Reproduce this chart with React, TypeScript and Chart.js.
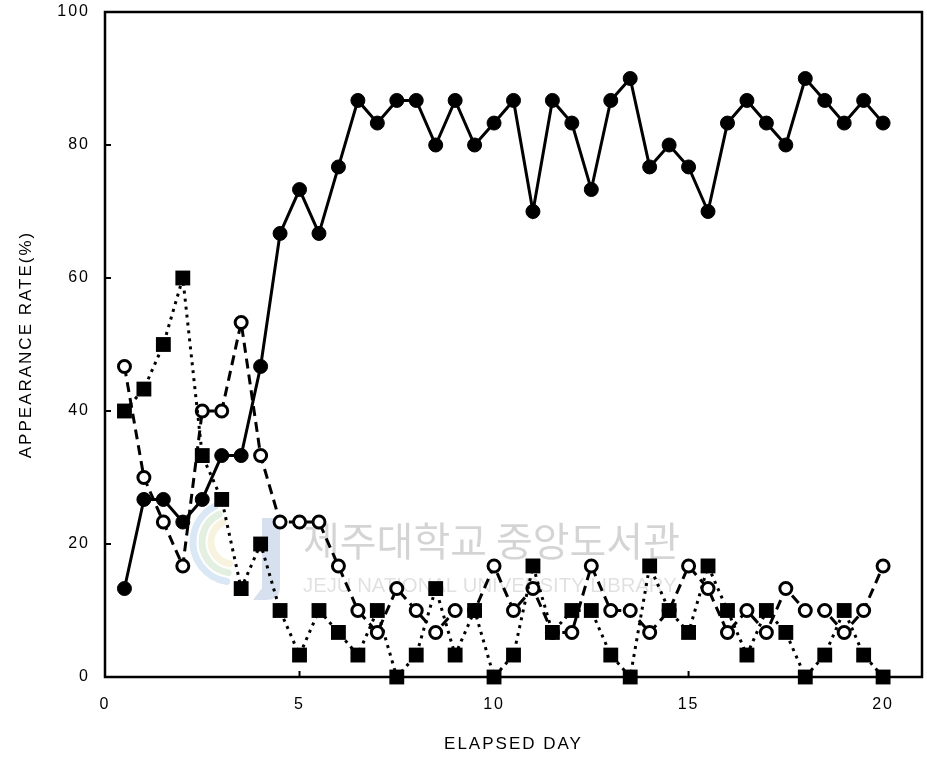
import React, { useEffect, useRef } from "react";
import { Chart, registerables } from "chart.js";

Chart.register(...registerables);

// Elapsed day of each observation
const elapsedDays = [
  0.5, 1, 1.5, 2, 2.5, 3, 3.5, 4, 4.5, 5, 5.5, 6, 6.5, 7, 7.5, 8, 8.5, 9, 9.5, 10,
  10.5, 11, 11.5, 12, 12.5, 13, 13.5, 14, 14.5, 15, 15.5, 16, 16.5, 17, 17.5, 18, 18.5, 19, 19.5, 20,
];

// Appearance rate (%) – filled circles, solid line
const filledCircleRate = [
  13.3, 26.7, 26.7, 23.3, 26.7, 33.3, 33.3, 46.7, 66.7, 73.3, 66.7, 76.7, 86.7, 83.3, 86.7, 86.7, 80, 86.7, 80, 83.3,
  86.7, 70, 86.7, 83.3, 73.3, 86.7, 90, 76.7, 80, 76.7, 70, 83.3, 86.7, 83.3, 80, 90, 86.7, 83.3, 86.7, 83.3,
];

// Appearance rate (%) – open circles, dashed line
const openCircleRate = [
  46.7, 30, 23.3, 16.7, 40, 40, 53.3, 33.3, 23.3, 23.3, 23.3, 16.7, 10, 6.7, 13.3, 10, 6.7, 10, 10, 16.7,
  10, 13.3, 6.7, 6.7, 16.7, 10, 10, 6.7, 10, 16.7, 13.3, 6.7, 10, 6.7, 13.3, 10, 10, 6.7, 10, 16.7,
];

// Appearance rate (%) – filled squares, dotted line
const filledSquareRate = [
  40, 43.3, 50, 60, 33.3, 26.7, 13.3, 20, 10, 3.3, 10, 6.7, 3.3, 10, 0, 3.3, 13.3, 3.3, 10, 0,
  3.3, 16.7, 6.7, 10, 10, 3.3, 0, 16.7, 10, 6.7, 16.7, 10, 3.3, 10, 6.7, 0, 3.3, 10, 3.3, 0,
];

const xTickValues = [0, 5, 10, 15, 20];
const yTickValues = [0, 20, 40, 60, 80, 100];

const xTitle = "ELAPSED DAY";
const yTitle = "APPEARANCE RATE(%)";
const watermarkKo = "제주대학교 중앙도서관";
const watermarkEn = "JEJU NATIONAL UNIVERSITY LIBRARY";

const FONT = "'Liberation Sans', Arial, Helvetica, sans-serif";

function toPoints(values: number[]) {
  return elapsedDays.map((d, i) => ({ x: d, y: values[i] }));
}

function drawWatermark(ctx: CanvasRenderingContext2D, left: number, top: number) {
  ctx.save();
  ctx.letterSpacing = "0px";
  // swirl emblem
  const cx = left + 128;
  const cy = top + 530;
  const swirl = [
    { r: 40, c: "rgba(150,190,230,0.35)" },
    { r: 31, c: "rgba(175,212,170,0.35)" },
    { r: 22, c: "rgba(232,222,160,0.35)" },
  ];
  ctx.lineCap = "round";
  swirl.forEach((s) => {
    ctx.strokeStyle = s.c;
    ctx.lineWidth = 7;
    ctx.beginPath();
    ctx.arc(cx, cy, s.r, Math.PI * 0.55, Math.PI * 1.35);
    ctx.stroke();
  });
  // "J" bar
  ctx.fillStyle = "rgba(140,165,210,0.35)";
  ctx.beginPath();
  ctx.moveTo(left + 157, top + 506);
  ctx.lineTo(left + 175, top + 506);
  ctx.lineTo(left + 175, top + 575);
  ctx.quadraticCurveTo(left + 175, top + 588, left + 160, top + 588);
  ctx.lineTo(left + 148, top + 588);
  ctx.lineTo(left + 157, top + 576);
  ctx.closePath();
  ctx.fill();

  // library name
  ctx.textBaseline = "middle";
  ctx.textAlign = "left";
  ctx.fillStyle = "rgba(0,0,0,0.17)";
  ctx.font = `100px 'Noto Sans CJK KR', sans-serif`;
  const koSize = (100 * 377) / ctx.measureText(watermarkKo).width;
  ctx.font = `${koSize}px 'Noto Sans CJK KR', sans-serif`;
  ctx.fillText(watermarkKo, left + 198, top + 529);

  ctx.fillStyle = "rgba(0,0,0,0.12)";
  ctx.font = `100px ${FONT}`;
  const enSize = (100 * 374) / ctx.measureText(watermarkEn).width;
  ctx.font = `${enSize}px ${FONT}`;
  ctx.fillText(watermarkEn, left + 198, top + 574);
  ctx.restore();
}

const framePlugin = {
  id: "frameAndTicks",
  beforeLayout(chart: any) {
    chart.ctx.letterSpacing = "2px";
  },
  beforeDraw(chart: any) {
    chart.ctx.letterSpacing = "2px";
  },
  beforeDatasetsDraw(chart: any) {
    const { ctx, chartArea: a, scales } = chart;
    drawWatermark(ctx, a.left, a.top);
    ctx.save();
    ctx.strokeStyle = "#000";
    ctx.lineWidth = 2.5;
    ctx.strokeRect(a.left, a.top, a.right - a.left, a.bottom - a.top);
    ctx.lineWidth = 2;
    ctx.beginPath();
    yTickValues.forEach((v) => {
      const y = scales.y.getPixelForValue(v);
      ctx.moveTo(a.left, y);
      ctx.lineTo(a.left + 6, y);
    });
    xTickValues.forEach((v) => {
      const x = scales.x.getPixelForValue(v);
      ctx.moveTo(x, a.bottom);
      ctx.lineTo(x, a.bottom - 6);
    });
    ctx.stroke();
    ctx.restore();
  },
};

export default function App() {
  const canvasRef = useRef<HTMLCanvasElement | null>(null);

  useEffect(() => {
    const canvas = canvasRef.current;
    if (!canvas) return;
    const chart = new Chart(canvas, {
      type: "line",
      data: {
        datasets: [
          {
            label: "filled circle",
            data: toPoints(filledCircleRate),
            borderColor: "#000",
            borderWidth: 3,
            pointStyle: "circle",
            pointRadius: 7,
            pointBackgroundColor: "#000",
            pointBorderColor: "#000",
            pointBorderWidth: 1,
            tension: 0,
            clip: false,
          },
          {
            label: "filled square",
            data: toPoints(filledSquareRate),
            borderColor: "#000",
            borderWidth: 3,
            borderDash: [3, 5],
            pointStyle: "rect",
            pointRadius: 10.5,
            pointBackgroundColor: "#000",
            pointBorderColor: "#000",
            pointBorderWidth: 0,
            tension: 0,
            clip: false,
          },
          {
            label: "open circle",
            data: toPoints(openCircleRate),
            borderColor: "#000",
            borderWidth: 3,
            borderDash: [10, 6],
            pointStyle: "circle",
            pointRadius: 6,
            pointBackgroundColor: "#fff",
            pointBorderColor: "#000",
            pointBorderWidth: 3,
            tension: 0,
            clip: false,
          },
        ],
      },
      options: {
        animation: false,
        responsive: false,
        devicePixelRatio: 1,
        layout: { autoPadding: false, padding: { top: 12, right: 5, bottom: 0, left: 0 } },
        plugins: {
          legend: { display: false },
          tooltip: { enabled: false },
        },
        scales: {
          x: {
            type: "linear",
            min: 0,
            max: 21,
            grid: { display: false, drawTicks: false },
            border: { display: false },
            afterBuildTicks: (scale: any) => {
              scale.ticks = xTickValues.map((v) => ({ value: v }));
            },
            afterFit: (scale: any) => {
              scale.height = 88;
              scale.paddingRight = 0;
              scale.paddingLeft = 0;
            },
            ticks: {
              color: "#000",
              padding: 18,
              maxRotation: 0,
              autoSkip: false,
              font: { family: FONT, size: 16 },
            },
            title: {
              display: true,
              text: xTitle,
              color: "#000",
              font: { family: FONT, size: 17 },
              padding: { top: 0, bottom: 10 },
            },
          },
          y: {
            type: "linear",
            min: 0,
            max: 100,
            grid: { display: false, drawTicks: false },
            border: { display: false },
            afterBuildTicks: (scale: any) => {
              scale.ticks = yTickValues.map((v) => ({ value: v }));
            },
            afterFit: (scale: any) => {
              scale.width = 105;
              scale.paddingTop = 0;
              scale.paddingBottom = 0;
            },
            ticks: {
              color: "#000",
              padding: 15,
              autoSkip: false,
              font: { family: FONT, size: 16 },
            },
            title: {
              display: true,
              text: yTitle,
              color: "#000",
              font: { family: FONT, size: 17 },
              padding: { top: 16, bottom: 0 },
            },
          },
        },
      },
      plugins: [framePlugin],
    });
    return () => chart.destroy();
  }, []);

  return (
    <div style={{ position: "fixed", left: 0, top: 0, width: 927, height: 765, background: "#fff" }}>
      <canvas ref={canvasRef} width={927} height={765} style={{ display: "block" }} />
    </div>
  );
}
